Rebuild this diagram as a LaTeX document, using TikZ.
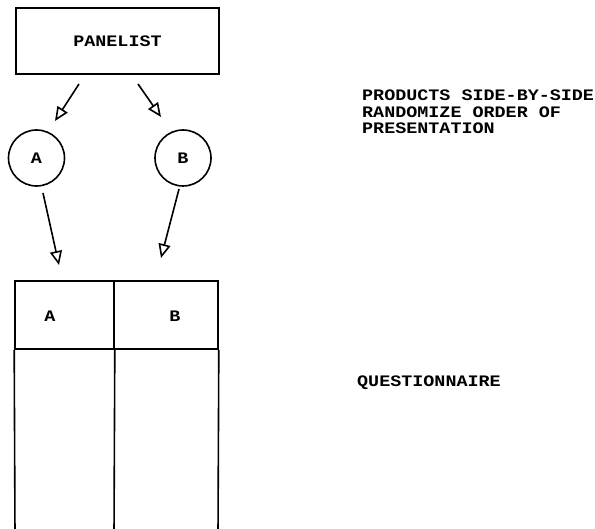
\documentclass[tikz,border=0pt]{standalone}
\usepackage{fontspec}
\newfontfamily\lpfont[FakeStretch=1.15]{Liberation Mono}
\usetikzlibrary{arrows.meta,calc}
\tikzset{
  ln/.style={line width=1.6pt},
  arr/.style={line width=1.6pt,-{Triangle[open,length=14pt,width=12pt,line width=1.6pt]}},
  lbl/.style={font=\lpfont\bfseries\fontsize{16}{16.5}\selectfont,inner sep=0pt},
  circ/.style={circle,draw,line width=1.6pt,minimum size=56pt,inner sep=0pt,font=\lpfont\bfseries\fontsize{16}{16.5}\selectfont},
}
\begin{document}
\begin{tikzpicture}[x=1pt,y=-1pt]
\useasboundingbox (0,0) rectangle (595,529);
% panelist box
\node[draw,ln,minimum width=203pt,minimum height=66pt,inner sep=0pt,lbl] (pan) at (117.5,41) {PANELIST};
% circles
\node[circ] (ca) at (36.5,158) {A};
\node[circ] (cb) at (183,158) {B};
% connectors
\coordinate (p1) at (79,84);
\coordinate (a1) at (55,121);
\coordinate (p2) at (138,84);
\coordinate (b1) at (161,117);
\draw[arr] (p1) -- (a1);
\draw[arr] (p2) -- (b1);
\coordinate (a2s) at (43,193);
\coordinate (a2e) at (59,265);
\coordinate (b2s) at (179,189);
\coordinate (b2e) at (161,258);
\draw[arr] (a2s) -- (a2e);
\draw[arr] (b2s) -- (b2e);
% table
\node[draw,ln,minimum width=99pt,minimum height=68pt,inner sep=0pt,lbl] (ta) at (64.5,315) {};
\node[draw,ln,minimum width=104pt,minimum height=68pt,inner sep=0pt,lbl] (tb) at (166,315) {};
\node[lbl] (la) at (50,316) {A};
\node[lbl] (lb) at (175,316) {B};
\coordinate (tbl1) at (15,535);
\coordinate (tbl2) at (114,535);
\coordinate (tbl3) at (218,535);
\draw[ln] (ta.south west) -- (tbl1);
\draw[ln] (ta.south east) -- (tbl2);
\draw[ln] (tb.south east) -- (tbl3);
% right texts
\node[lbl,anchor=north west,align=left] (t1) at (362,90) {PRODUCTS SIDE-BY-SIDE\\RANDOMIZE ORDER OF\\PRESENTATION};
\node[lbl,anchor=west] (t2) at (357,382.5) {QUESTIONNAIRE};
\end{tikzpicture}
\end{document}
